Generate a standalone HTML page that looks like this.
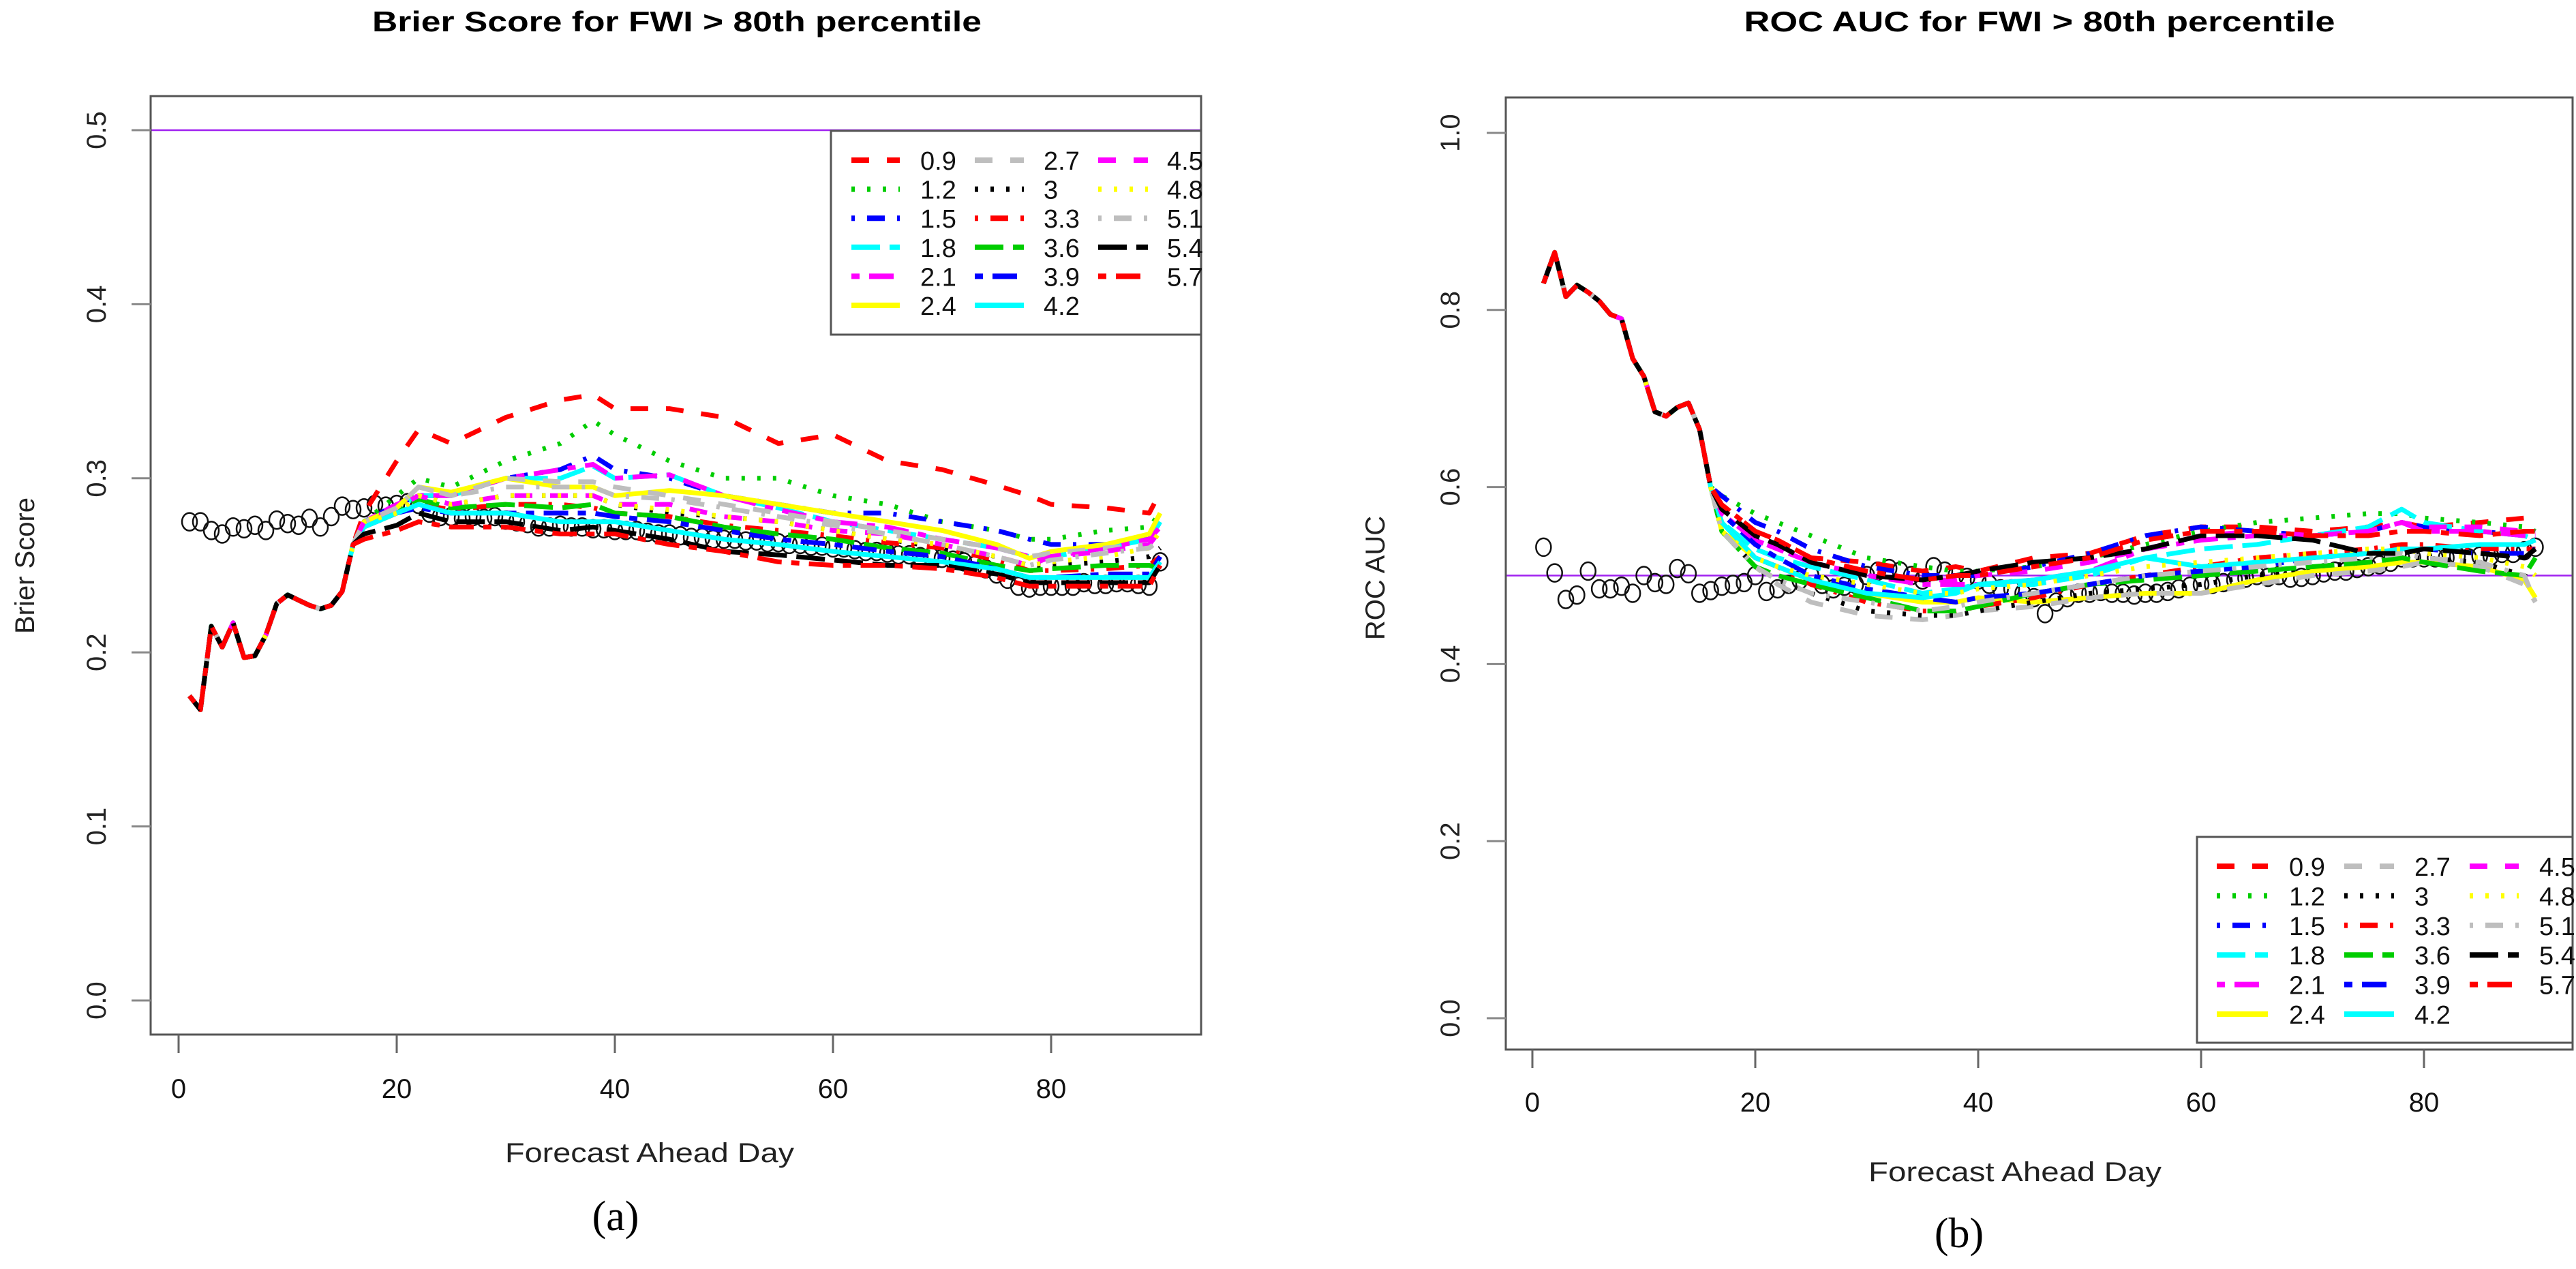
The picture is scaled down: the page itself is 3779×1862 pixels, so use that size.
<!DOCTYPE html>
<html><head><meta charset="utf-8"><style>
html,body{margin:0;padding:0;background:#fff;}
svg{display:block;font-family:"Liberation Sans",sans-serif;}
</style></head><body>
<svg id="fig" width="3779" height="1862" viewBox="0 0 3779 1862" xmlns="http://www.w3.org/2000/svg">
<rect x="0" y="0" width="3779" height="1862" fill="#fff"/>
<text x="993" y="46" text-anchor="middle" font-size="42" font-weight="bold" textLength="894" lengthAdjust="spacingAndGlyphs">Brier Score for FWI &gt; 80th percentile</text>
<text x="2992" y="46" text-anchor="middle" font-size="42" font-weight="bold" textLength="867" lengthAdjust="spacingAndGlyphs">ROC AUC for FWI &gt; 80th percentile</text>
<text x="953" y="1705" text-anchor="middle" font-size="40" fill="#222" textLength="424" lengthAdjust="spacingAndGlyphs">Forecast Ahead Day</text>
<text x="2956" y="1733" text-anchor="middle" font-size="40" fill="#222" textLength="430" lengthAdjust="spacingAndGlyphs">Forecast Ahead Day</text>
<text x="50" y="830" text-anchor="middle" font-size="40" fill="#222" transform="rotate(-90 50 830)">Brier Score</text>
<text x="2031" y="848" text-anchor="middle" font-size="40" fill="#222" transform="rotate(-90 2031 848)">ROC AUC</text>
<text x="903" y="1805" text-anchor="middle" font-size="62" font-family="Liberation Serif, serif">(a)</text>
<text x="2874" y="1830" text-anchor="middle" font-size="62" font-family="Liberation Serif, serif">(b)</text>
<g id="gA"></g><g id="gB"></g>
</svg>
<script>
const seriesNames = ["0.9","1.2","1.5","1.8","2.1","2.4","2.7","3","3.3","3.6","3.9","4.2","4.5","4.8","5.1","5.4","5.7"];
const seriesColors = ["#ff0000","#00cd00","#0000ff","#00ffff","#ff00ff","#ffff00","#bebebe","#000000","#ff0000","#00cd00","#0000ff","#00ffff","#ff00ff","#ffff00","#bebebe","#000000","#ff0000"];
const seriesLty = [2,3,4,5,6,1,2,3,4,5,6,1,2,3,4,5,6];
const earlyDays = [1,2,3,4,5,6,7,8,9,10,11,12,13,14,15,16];
const sampleDays = [17,20,22,25,30,35,38,40,45,50,55,60,65,70,75,78,80,85,89,90];
const brierEarly = [0.175,0.167,0.215,0.203,0.217,0.197,0.198,0.21,0.228,0.233,0.23,0.227,0.225,0.227,0.235,0.262];
const rocEarly = [0.83,0.865,0.815,0.828,0.82,0.81,0.795,0.79,0.745,0.725,0.685,0.68,0.69,0.695,0.665,0.6];
const brierSeries = [
[0.28,0.31,0.328,0.32,0.335,0.345,0.348,0.34,0.34,0.335,0.32,0.325,0.31,0.305,0.296,0.29,0.285,0.283,0.28,0.292],
[0.275,0.29,0.30,0.295,0.31,0.32,0.333,0.325,0.31,0.30,0.30,0.29,0.285,0.275,0.27,0.265,0.265,0.27,0.272,0.28],
[0.275,0.285,0.29,0.29,0.30,0.305,0.313,0.305,0.30,0.29,0.285,0.28,0.28,0.275,0.27,0.265,0.262,0.262,0.265,0.275],
[0.275,0.283,0.29,0.29,0.30,0.30,0.307,0.30,0.302,0.29,0.283,0.275,0.27,0.265,0.26,0.255,0.255,0.26,0.265,0.275],
[0.275,0.285,0.29,0.29,0.30,0.305,0.308,0.30,0.302,0.29,0.282,0.275,0.272,0.265,0.26,0.255,0.255,0.26,0.265,0.272],
[0.275,0.283,0.295,0.292,0.30,0.295,0.295,0.29,0.293,0.29,0.285,0.28,0.275,0.27,0.262,0.254,0.258,0.262,0.268,0.28],
[0.275,0.283,0.295,0.29,0.30,0.298,0.298,0.295,0.29,0.285,0.28,0.275,0.27,0.265,0.26,0.255,0.257,0.26,0.262,0.27],
[0.275,0.28,0.29,0.285,0.29,0.29,0.29,0.285,0.28,0.278,0.275,0.27,0.265,0.26,0.255,0.25,0.25,0.252,0.255,0.26],
[0.272,0.28,0.285,0.282,0.285,0.285,0.283,0.28,0.278,0.273,0.27,0.267,0.263,0.26,0.253,0.247,0.247,0.248,0.25,0.255],
[0.272,0.28,0.288,0.283,0.285,0.283,0.285,0.28,0.278,0.272,0.268,0.265,0.26,0.257,0.25,0.247,0.248,0.25,0.25,0.248],
[0.272,0.28,0.283,0.28,0.28,0.28,0.28,0.278,0.275,0.27,0.265,0.262,0.258,0.255,0.248,0.243,0.243,0.245,0.245,0.255],
[0.272,0.28,0.285,0.28,0.28,0.275,0.275,0.275,0.27,0.265,0.262,0.258,0.255,0.252,0.248,0.243,0.243,0.243,0.243,0.252],
[0.275,0.283,0.29,0.285,0.29,0.29,0.29,0.285,0.285,0.278,0.275,0.27,0.268,0.262,0.255,0.25,0.255,0.258,0.262,0.27],
[0.275,0.28,0.29,0.285,0.29,0.29,0.29,0.285,0.282,0.278,0.275,0.27,0.265,0.262,0.255,0.25,0.252,0.255,0.26,0.27],
[0.275,0.283,0.295,0.29,0.295,0.295,0.295,0.29,0.288,0.283,0.278,0.273,0.268,0.262,0.255,0.25,0.253,0.257,0.26,0.265],
[0.268,0.273,0.28,0.275,0.275,0.27,0.272,0.27,0.265,0.258,0.256,0.253,0.25,0.25,0.245,0.24,0.24,0.24,0.24,0.25],
[0.265,0.27,0.275,0.272,0.272,0.268,0.268,0.268,0.262,0.258,0.252,0.25,0.25,0.248,0.243,0.238,0.238,0.238,0.238,0.25]];
const rocSeries = [
[0.58,0.55,0.54,0.52,0.515,0.505,0.51,0.505,0.52,0.525,0.545,0.555,0.555,0.55,0.555,0.56,0.555,0.56,0.565,0.555],
[0.59,0.57,0.56,0.545,0.52,0.51,0.505,0.505,0.51,0.52,0.535,0.55,0.56,0.565,0.57,0.57,0.565,0.56,0.555,0.55],
[0.59,0.56,0.55,0.53,0.51,0.50,0.50,0.50,0.51,0.525,0.545,0.555,0.55,0.545,0.55,0.56,0.555,0.55,0.545,0.54],
[0.56,0.53,0.52,0.51,0.495,0.48,0.485,0.49,0.49,0.50,0.52,0.53,0.535,0.545,0.555,0.575,0.56,0.55,0.545,0.54],
[0.57,0.54,0.53,0.515,0.50,0.49,0.49,0.49,0.495,0.505,0.53,0.54,0.545,0.545,0.55,0.56,0.55,0.55,0.545,0.545],
[0.55,0.52,0.51,0.495,0.48,0.47,0.47,0.475,0.47,0.475,0.48,0.48,0.495,0.505,0.51,0.515,0.515,0.51,0.495,0.475],
[0.55,0.51,0.49,0.47,0.455,0.45,0.455,0.46,0.465,0.475,0.48,0.48,0.49,0.50,0.505,0.51,0.515,0.51,0.49,0.47],
[0.55,0.51,0.495,0.48,0.46,0.455,0.455,0.46,0.47,0.48,0.485,0.49,0.50,0.51,0.515,0.52,0.52,0.515,0.50,0.495],
[0.56,0.52,0.51,0.49,0.47,0.46,0.46,0.465,0.475,0.49,0.50,0.51,0.52,0.525,0.53,0.535,0.535,0.53,0.53,0.53],
[0.55,0.51,0.50,0.49,0.475,0.46,0.46,0.465,0.48,0.49,0.495,0.50,0.505,0.51,0.515,0.52,0.515,0.505,0.50,0.52],
[0.57,0.535,0.52,0.50,0.485,0.475,0.47,0.475,0.48,0.49,0.50,0.505,0.51,0.52,0.525,0.53,0.53,0.525,0.525,0.53],
[0.56,0.52,0.51,0.495,0.48,0.475,0.48,0.49,0.495,0.505,0.52,0.51,0.515,0.52,0.525,0.53,0.53,0.535,0.535,0.54],
[0.57,0.54,0.53,0.515,0.50,0.495,0.495,0.50,0.505,0.515,0.53,0.545,0.55,0.545,0.55,0.56,0.555,0.555,0.55,0.55],
[0.55,0.52,0.51,0.50,0.49,0.48,0.48,0.485,0.49,0.50,0.51,0.515,0.52,0.525,0.53,0.53,0.525,0.52,0.51,0.50],
[0.55,0.51,0.495,0.48,0.47,0.46,0.465,0.47,0.48,0.49,0.50,0.505,0.51,0.515,0.52,0.525,0.52,0.515,0.50,0.47],
[0.575,0.545,0.535,0.515,0.50,0.495,0.50,0.505,0.515,0.52,0.53,0.545,0.545,0.54,0.525,0.525,0.53,0.525,0.52,0.53],
[0.58,0.55,0.54,0.52,0.505,0.495,0.50,0.50,0.51,0.52,0.54,0.55,0.55,0.545,0.545,0.55,0.55,0.545,0.55,0.55]];
const brierCircles = [0.275,0.275,0.27,0.268,0.272,0.271,0.273,0.27,0.276,0.274,0.273,0.277,0.272,0.278,0.284,0.282,
0.283,0.285,0.284,0.285,0.286,0.285,0.28,0.278,0.278,0.277,0.278,0.277,0.278,0.276,
0.275,0.274,0.272,0.272,0.273,0.272,0.272,0.271,0.271,0.27,0.27,0.27,0.269,0.268,0.268,0.267,0.266,0.266,0.265,0.265,
0.265,0.264,0.264,0.263,0.263,0.262,0.262,0.261,0.261,0.26,0.26,0.259,0.258,0.258,0.257,0.256,0.256,0.255,0.255,0.254,
0.253,0.252,0.25,0.248,0.245,0.242,0.238,0.237,0.238,0.238,0.238,0.238,0.24,0.239,0.239,0.24,0.24,0.239,0.238,0.252];
const rocCircles = [0.532,0.503,0.473,0.478,0.505,0.485,0.485,0.488,0.48,0.5,0.492,0.49,0.508,0.502,0.48,0.483,0.488,0.49,0.492,0.5,0.482,
0.485,0.49,0.495,0.5,0.49,0.485,0.488,0.49,0.5,
0.505,0.508,0.505,0.5,0.495,0.51,0.505,0.5,0.498,0.495,0.49,0.485,0.485,0.48,0.475,0.457,0.47,0.475,0.48,0.48,
0.482,0.48,0.48,0.478,0.48,0.48,0.482,0.485,0.488,0.49,0.49,0.492,0.495,0.497,0.5,0.498,0.5,0.497,0.498,0.5,
0.503,0.505,0.505,0.508,0.51,0.512,0.515,0.52,0.52,0.52,0.52,0.52,0.522,0.52,0.522,0.522,0.525,0.525,0.528,0.532];
const xTicks = [0,20,40,60,80];
const brierYTicks = [0,0.1,0.2,0.3,0.4,0.5];
const brierYLabels = ["0.0","0.1","0.2","0.3","0.4","0.5"];
const rocYTicks = [0,0.2,0.4,0.6,0.8,1.0];
const rocYLabels = ["0.0","0.2","0.4","0.6","0.8","1.0"];

const NS = "http://www.w3.org/2000/svg";
const dashMap = {1:"",2:"26 26",3:"5 18",4:"5 18 26 18",5:"42 14",6:"12 14 36 14"};
function mk(tag, attrs, parent){ const e=document.createElementNS(NS,tag); for(const k in attrs) e.setAttribute(k,attrs[k]); parent.appendChild(e); return e; }

function drawPanel(g, cfg){
  const sx = v => cfg.x0 + v*cfg.xPer;
  const sy = v => cfg.y0 - v*cfg.yPer;
  const ref = mk("line",{x1:cfg.left,x2:cfg.right,y1:sy(0.5),y2:sy(0.5),stroke:"#a020f0","stroke-width":2.5},g);
  
  
  for(let i=0;i<cfg.circles.length;i++){
    const c = mk("ellipse",{cx:sx(i+1),cy:sy(cfg.circles[i]),rx:11,ry:13,fill:"none",stroke:"#111","stroke-width":2.5},g);
    
    
  }
  for(let s=0;s<seriesNames.length;s++){
    const vals = earlyDays.map((d,i)=>[d,cfg.early[i]]).concat(sampleDays.map((d,i)=>[d,cfg.series[s][i]]));
    const pts = vals.map(p=>sx(p[0]).toFixed(1)+","+sy(p[1]).toFixed(1)).join(" ");
    const pl = mk("polyline",{points:pts,fill:"none",stroke:seriesColors[s],"stroke-width":7,"stroke-dasharray":dashMap[seriesLty[s]],"stroke-linejoin":"round"},g);
    
    
  }
  const box = mk("rect",{x:cfg.left,y:cfg.top,width:cfg.right-cfg.left,height:cfg.bottom-cfg.top,fill:"none",stroke:"#555","stroke-width":3},g);
  
  
  xTicks.forEach(t=>{
    const tk = mk("line",{x1:sx(t),x2:sx(t),y1:cfg.bottom,y2:cfg.bottom+27,stroke:"#666","stroke-width":3},g);
    
    
    const tl = mk("text",{x:sx(t),y:cfg.xLabY,"text-anchor":"middle","font-size":40,fill:"#111"},g);
    tl.textContent = t;
    
    
  });
  cfg.yTicks.forEach((t,i)=>{
    const tk = mk("line",{x1:cfg.left-28,x2:cfg.left,y1:sy(t),y2:sy(t),stroke:"#888","stroke-width":3},g);
    
    
    const lx = cfg.yLabX, ly = sy(t);
    const tl = mk("text",{x:lx,y:ly,"text-anchor":"middle","font-size":40,fill:"#222",transform:"rotate(-90 "+lx+" "+ly+")"},g);
    tl.textContent = cfg.yLabels[i];
    
    
  });
  const lg = mk("g",{},g);
  
  
  const lb = mk("rect",{x:cfg.leg.x,y:cfg.leg.y,width:cfg.right-cfg.leg.x,height:cfg.leg.h,fill:"#fff",stroke:"#555","stroke-width":3},lg);
  
  
  for(let s=0;s<seriesNames.length;s++){
    const col = Math.floor(s/6), row = s%6;
    const y = cfg.leg.row0 + row*cfg.leg.rowH;
    const c = cfg.leg.cols[col];
    const ln = mk("line",{x1:c[0],x2:c[1],y1:y,y2:y,stroke:seriesColors[s],"stroke-width":8,"stroke-dasharray":dashMap[seriesLty[s]]},lg);
    
    
    const tx = mk("text",{x:c[2],y:y+14,"font-size":38,fill:"#111"},lg);
    tx.textContent = seriesNames[s];
    
    
  }
}

drawPanel(document.getElementById('gA'),{
  x0:262,xPer:16,y0:1468,yPer:2554,left:221,right:1762,top:141,bottom:1518,
  early:brierEarly,series:brierSeries,circles:brierCircles,yTicks:brierYTicks,yLabels:brierYLabels,
  xLabY:1611,yLabX:155,
  leg:{x:1219,y:192,h:299,row0:235,rowH:42.6,cols:[[1249,1320,1350],[1430,1502,1531],[1611,1684,1712]]}
});
drawPanel(document.getElementById('gB'),{
  x0:2248,xPer:16.35,y0:1494,yPer:1299,left:2209,right:3774,top:143,bottom:1540,
  early:rocEarly,series:rocSeries,circles:rocCircles,yTicks:rocYTicks,yLabels:rocYLabels,
  xLabY:1631,yLabX:2141,
  leg:{x:3223,y:1228,h:302,row0:1271,rowH:43.4,cols:[[3252,3327,3358],[3439,3512,3542],[3623,3695,3725]]}
});
</script>
</body></html>
